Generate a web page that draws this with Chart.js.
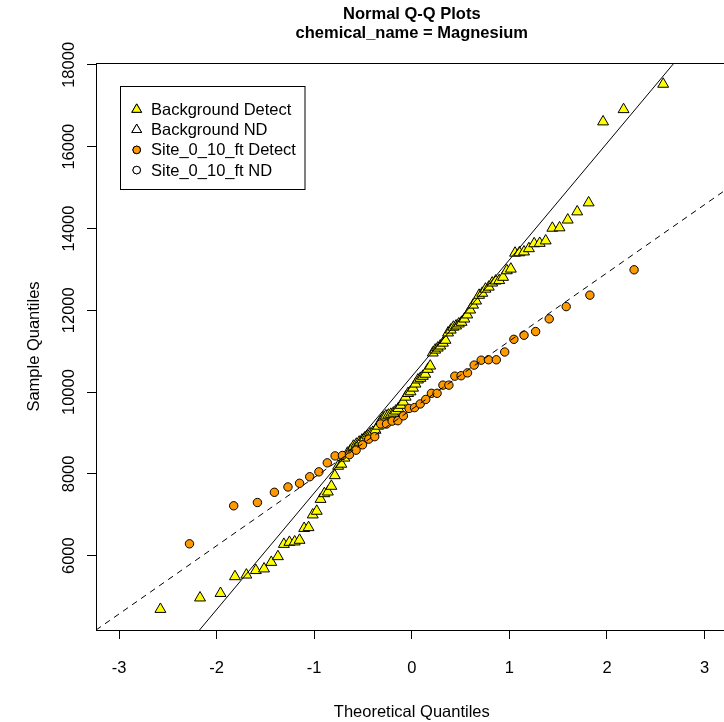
<!DOCTYPE html>
<html>
<head>
<meta charset="utf-8">
<script src="https://cdn.jsdelivr.net/npm/chart.js@4.4.1/dist/chart.umd.min.js"></script>
<style>
  html, body { margin: 0; padding: 0; background: #fff; overflow: hidden; }
  #wrap { width: 724px; height: 722px; overflow: hidden; }
</style>
</head>
<body>
<div id="wrap"><canvas id="qq" width="760" height="722"></canvas></div>
<script>
// titulos e eixos
const titleLines = ['Normal Q-Q Plots', 'chemical_name = Magnesium'];
const xTitle = 'Theoretical Quantiles';
const yTitle = 'Sample Quantiles';
const xTicks = [-3, -2, -1, 0, 1, 2, 3];
const yTicks = [6000, 8000, 10000, 12000, 14000, 16000, 18000];
const xRange = [-3.236, 3.236];
const yRange = [4183, 18046];

// quantis teoricos (metade inferior) - Background n=100
const bgHalfQ = [-2.576, -2.170, -1.960, -1.812, -1.695, -1.598, -1.514, -1.440, -1.372, -1.311,
  -1.254, -1.200, -1.150, -1.103, -1.058, -1.015, -0.974, -0.935, -0.896, -0.860,
  -0.824, -0.789, -0.755, -0.722, -0.690, -0.659, -0.628, -0.598, -0.568, -0.539,
  -0.510, -0.482, -0.454, -0.426, -0.399, -0.372, -0.345, -0.319, -0.292, -0.266,
  -0.240, -0.215, -0.189, -0.164, -0.138, -0.113, -0.088, -0.063, -0.038, -0.013];
const bgQuantiles = bgHalfQ.concat(bgHalfQ.slice().reverse().map(v => -v));

const bgValues = [4690, 4970, 5080, 5490, 5530, 5640, 5680, 5840, 5980, 6280,
  6330, 6340, 6380, 6670, 6690, 7000, 7090, 7380, 7520, 7560,
  7700, 7960, 8190, 8240, 8390, 8510, 8580, 8680, 8730, 8780,
  8830, 8880, 8930, 8980, 9020, 9070, 9170, 9290, 9370, 9420,
  9440, 9460, 9490, 9540, 9600, 9680, 9760, 9880, 9970, 10010,
  10100, 10200, 10300, 10340, 10390, 10440, 10560, 10640, 10960, 11030,
  11080, 11130, 11200, 11270, 11450, 11520, 11590, 11620, 11670, 11710,
  11790, 11890, 12010, 12130, 12230, 12370, 12420, 12520, 12570, 12670,
  12720, 12730, 12810, 12970, 13010, 13400, 13410, 13430, 13510, 13630,
  13640, 13700, 14010, 14020, 14210, 14410, 14630, 16610, 16910, 17530];

// Site_0_10_ft n=44
const siteHalfQ = [-2.278, -1.825, -1.582, -1.408, -1.269, -1.150, -1.046, -0.952, -0.866, -0.786,
  -0.711, -0.639, -0.571, -0.505, -0.441, -0.380, -0.319, -0.259, -0.201, -0.143,
  -0.086, -0.028];
const siteQuantiles = siteHalfQ.concat(siteHalfQ.slice().reverse().map(v => -v));

const siteValues = [6290, 7220, 7300, 7550, 7680, 7770, 7930, 8050, 8270, 8440,
  8450, 8470, 8580, 8710, 8850, 8910, 9220, 9220, 9290, 9300,
  9420, 9600, 9620, 9710, 9820, 9970, 9970, 10170, 10170, 10390,
  10400, 10470, 10660, 10780, 10790, 10790, 10980, 11290, 11390, 11480,
  11790, 12090, 12370, 12990];

// qqline: [intercepto, inclinacao]
const bgLine = [10384, 2851];
const siteLine = [9579, 1668];

const FONT = '"Liberation Sans", Arial, Helvetica, sans-serif';
Chart.defaults.font.family = FONT;
Chart.defaults.font.size = 16.5;
Chart.defaults.color = '#000';

function pares(xs, ys) {
  return xs.map((x, i) => ({ x: x, y: ys[i] }));
}
function linha(p) {
  return xRange.map(x => ({ x: x, y: p[0] + p[1] * x }));
}

const extras = {
  id: 'extras',
  afterDraw(chart) {
    const ctx = chart.ctx;
    const a = chart.chartArea;
    const ys = chart.scales.y;
    ctx.save();
    // caixa do grafico
    ctx.strokeStyle = '#000';
    ctx.lineWidth = 1;
    ctx.strokeRect(Math.round(a.left) + 0.5, Math.round(a.top) + 0.5,
      Math.round(a.right - a.left), Math.round(a.bottom - a.top));

    // titulo
    ctx.fillStyle = '#000';
    ctx.textAlign = 'center';
    ctx.textBaseline = 'alphabetic';
    ctx.font = 'bold 16.5px ' + FONT;
    const cx = (a.left + a.right) / 2;
    ctx.fillText(titleLines[0], cx, 19);
    ctx.fillText(titleLines[1], cx, 38);

    // rotulos do eixo y (verticais)
    ctx.font = '16.5px ' + FONT;
    yTicks.forEach(v => {
      const py = ys.getPixelForValue(v);
      ctx.save();
      ctx.translate(74, py);
      ctx.rotate(-Math.PI / 2);
      ctx.textAlign = 'center';
      ctx.textBaseline = 'alphabetic';
      ctx.fillText(String(v), 0, 0);
      ctx.restore();
    });

    // legenda
    const lx = 120.5, ly = 86.5, lw = 184.5, lh = 103;
    ctx.fillStyle = '#fff';
    ctx.fillRect(lx, ly, lw, lh);
    ctx.strokeRect(lx, ly, lw, lh);
    const itens = chart.data.datasets.filter(d => d.inLegend);
    itens.forEach((d, i) => {
      const yy = 109.5 + i * 20.2;
      Chart.helpers.drawPoint(ctx, {
        pointStyle: d.pointStyle,
        radius: d.pointStyle === 'triangle' ? 5.6 : 3.8,
        borderWidth: 1
      }, 136.7, yy);
      ctx.fillStyle = d.backgroundColor;
      ctx.strokeStyle = '#000';
      ctx.beginPath();
      if (d.pointStyle === 'triangle') {
        const r = 5.6;
        ctx.moveTo(136.7, yy - r);
        ctx.lineTo(136.7 + r * 0.866, yy + r / 2);
        ctx.lineTo(136.7 - r * 0.866, yy + r / 2);
        ctx.closePath();
      } else {
        ctx.arc(136.7, yy, 3.8, 0, Math.PI * 2);
      }
      ctx.fill();
      ctx.stroke();
      ctx.fillStyle = '#000';
      ctx.textAlign = 'left';
      ctx.textBaseline = 'middle';
      ctx.fillText(d.label, 151, yy + 1);
    });
    ctx.restore();
  }
};

new Chart(document.getElementById('qq'), {
  type: 'scatter',
  data: {
    datasets: [
      {
        label: 'Background Detect', inLegend: true, order: 2,
        data: pares(bgQuantiles, bgValues),
        pointStyle: 'triangle', pointRadius: 6.3, pointHoverRadius: 6.3,
        backgroundColor: '#FFFF00', borderColor: '#000', borderWidth: 1
      },
      {
        label: 'Background ND', inLegend: true, order: 2,
        data: [],
        pointStyle: 'triangle', pointRadius: 6.3,
        backgroundColor: '#FFFFFF', borderColor: '#000', borderWidth: 1
      },
      {
        label: 'Site_0_10_ft Detect', inLegend: true, order: 1,
        data: pares(siteQuantiles, siteValues),
        pointStyle: 'circle', pointRadius: 4.2, pointHoverRadius: 4.2,
        backgroundColor: '#FF9900', borderColor: '#000', borderWidth: 1
      },
      {
        label: 'Site_0_10_ft ND', inLegend: true, order: 1,
        data: [],
        pointStyle: 'circle', pointRadius: 4.2,
        backgroundColor: '#FFFFFF', borderColor: '#000', borderWidth: 1
      },
      {
        label: 'qqline Background', order: 0,
        data: linha(bgLine), showLine: true, pointRadius: 0,
        borderColor: '#000', borderWidth: 1
      },
      {
        label: 'qqline Site', order: 0,
        data: linha(siteLine), showLine: true, pointRadius: 0,
        borderColor: '#000', borderWidth: 1, borderDash: [6, 5]
      }
    ]
  },
  options: {
    responsive: false,
    animation: false,
    devicePixelRatio: 1,
    layout: { padding: { top: 63, right: 32.4, left: 0, bottom: 0 } },
    plugins: {
      legend: { display: false },
      title: { display: false },
      tooltip: { enabled: false }
    },
    scales: {
      x: {
        type: 'linear', min: xRange[0], max: xRange[1],
        afterBuildTicks: s => { s.ticks = xTicks.map(v => ({ value: v })); },
        afterFit: s => { s.height = 92; },
        ticks: { padding: 20, font: { size: 16.5 } },
        grid: { drawOnChartArea: false, drawTicks: true, tickLength: 9, color: '#000' },
        border: { display: false },
        title: { display: true, text: xTitle, padding: { top: 0, bottom: 0 }, font: { size: 16.5 } }
      },
      y: {
        type: 'linear', min: yRange[0], max: yRange[1],
        afterBuildTicks: s => { s.ticks = yTicks.map(v => ({ value: v })); },
        afterFit: s => { s.width = 96; },
        ticks: { display: false },
        grid: { drawOnChartArea: false, drawTicks: true, tickLength: 9, color: '#000' },
        border: { display: false },
        title: { display: true, text: yTitle, padding: { top: 25, bottom: 0 }, font: { size: 16.5 } }
      }
    }
  },
  plugins: [extras]
});
</script>
</body>
</html>
